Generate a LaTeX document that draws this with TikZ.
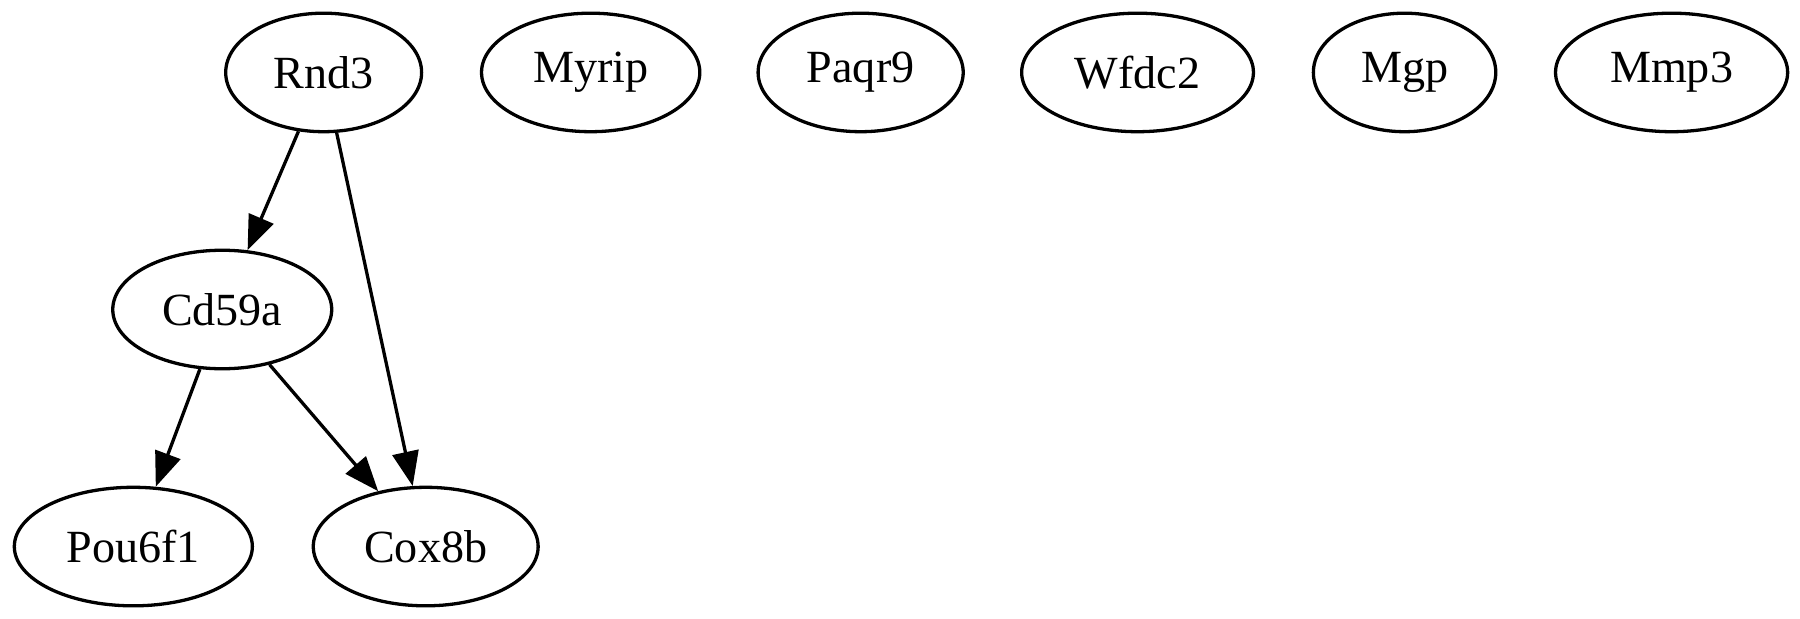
\documentclass[tikz,border=0pt]{standalone}
\usepackage{fontspec}
\setmainfont{Liberation Serif}
\usepackage{tikz}
\usetikzlibrary{arrows.meta,shapes.geometric}
\tikzset{
  genelabel/.style={font=\fontsize{14}{16.8}\selectfont, text=black},
  genebox/.style={genelabel, ellipse, draw=black, line width=1pt, minimum height=36pt, inner sep=0pt},
  genearrow/.style={-{Triangle[length=10.5pt,width=8pt]}, line width=1pt, draw=black}
}

\begin{document}
\begin{tikzpicture}[x=1pt, y=-1pt]
\useasboundingbox (0,0) rectangle (546.7,188);
% top rank
\node[genebox, minimum width=59.5pt] (rnd3) at (98.3,22) {Rnd3};
\node[genebox, minimum width=66.3pt] (myrip) at (179.4,22) {Myrip};
\node[genebox, minimum width=62.3pt] (paqr9) at (261.4,22) {Paqr9};
\node[genebox, minimum width=70.4pt] (wfdc2) at (345.5,22) {Wfdc2};
\node[genebox, minimum width=55.4pt] (mgp) at (426.6,22) {Mgp};
\node[genebox, minimum width=70.5pt] (mmp3) at (507.7,22) {Mmp3};
% lower ranks
\node[genebox, minimum width=66.5pt] (cd59a) at (67.5,94) {Cd59a};
\node[genebox, minimum width=72.3pt] (pou6f1) at (40.5,166) {Pou6f1};
\node[genebox, minimum width=68.3pt] (cox8b) at (129.3,166) {Cox8b};
\draw[genearrow] (rnd3) -- (cd59a);
\draw[genearrow] (rnd3) -- (cox8b);
\draw[genearrow] (cd59a) -- (pou6f1);
\draw[genearrow] (cd59a) -- (cox8b);
\end{tikzpicture}
\end{document}
